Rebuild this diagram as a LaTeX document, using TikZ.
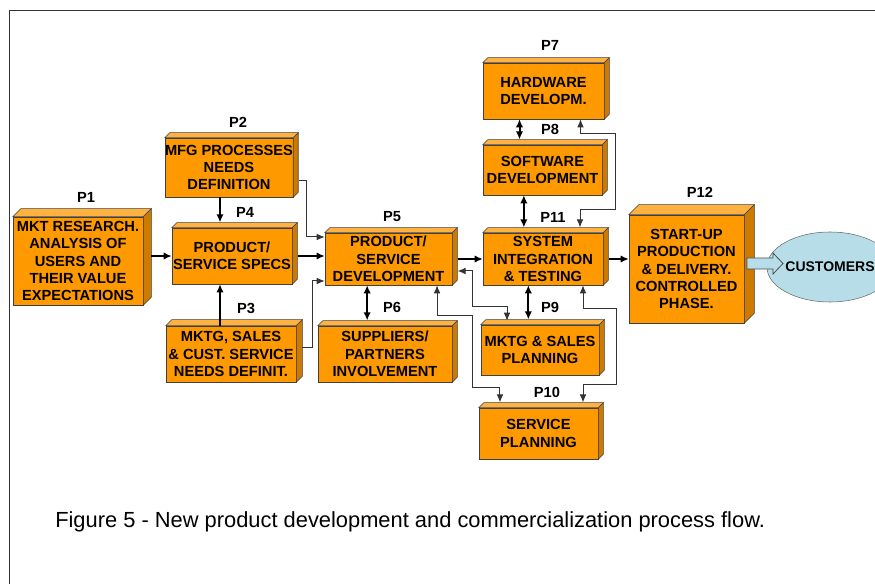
\documentclass[tikz,border=0pt]{standalone}
\usepackage{fontspec}
\setmainfont{Liberation Sans}
\usetikzlibrary{arrows.meta,shapes.geometric}
\definecolor{boxorange}{HTML}{FF9900}
\definecolor{boxtop}{HTML}{FFB23F}
\definecolor{boxside}{HTML}{CC7A00}
\definecolor{custblue}{HTML}{B7DEE8}

\begin{document}
\begin{tikzpicture}[
        x=0.75pt, y=-0.75pt,
        stage/.style={draw=black!75, fill=boxorange, inner sep=0pt, align=center, font=\bfseries\fontsize{11}{13}\selectfont},
        plabel/.style={font=\bfseries\fontsize{11}{13}\selectfont},
        mainarrow/.style={line width=1.5pt, >={Latex[length=6pt,width=5.5pt]}},
        thinarrow/.style={line width=0.75pt, draw=black!80, >={Latex[length=6pt,width=5pt]}},
        fatarrow/.style={draw=black!70, fill=custblue, line width=0.6pt}
    ]
        \useasboundingbox (0,0) rectangle (875,584);
        \draw[black!80, line width=0.75pt] (9,584) -- (9,11) -- (875,11);

        \node (p1) at (78,261) [stage, minimum width=97.5pt, minimum height=66pt] {MKT RESEARCH.\\ANALYSIS OF\\USERS AND\\THEIR VALUE\\EXPECTATIONS};
        \node (p2) at (229,167.5) [stage, minimum width=94.5pt, minimum height=44.25pt] {MFG PROCESSES\\NEEDS\\DEFINITION};
        \node (p4) at (232,256) [stage, minimum width=90pt, minimum height=42pt] {PRODUCT/\\SERVICE SPECS};
        \node (p3) at (231,354) [stage, minimum width=97.5pt, minimum height=42pt] {MKTG, SALES\\\& CUST. SERVICE\\NEEDS DEFINIT.};
        \node (p5) at (388.5,259) [stage, minimum width=95.25pt, minimum height=39pt] {PRODUCT/\\SERVICE\\DEVELOPMENT};
        \node (p6) at (385,354) [stage, minimum width=100.5pt, minimum height=42pt] {SUPPLIERS/\\PARTNERS\\INVOLVEMENT};
        \node (p7) at (543.5,91) [stage, minimum width=90.75pt, minimum height=42pt] {HARDWARE\\DEVELOPM.};
        \node (p8) at (542.5,170) [stage, minimum width=89.25pt, minimum height=37.5pt] {SOFTWARE\\DEVELOPMENT};
        \node (p11) at (543,259) [stage, minimum width=90pt, minimum height=39pt] {SYSTEM\\INTEGRATION\\\& TESTING};
        \node (p9) at (540,350) [stage, minimum width=88.5pt, minimum height=37.5pt] {MKTG \& SALES\\PLANNING};
        \node (p10) at (538.5,433.5) [stage, minimum width=89.25pt, minimum height=38.25pt] {SERVICE\\PLANNING};
        \node (p12) at (686.5,269) [stage, minimum width=86.25pt, minimum height=81pt] {START-UP\\PRODUCTION\\\& DELIVERY.\\CONTROLLED\\PHASE.};
        \node (cust) at (830,267) [ellipse, draw=black!60, fill=custblue, minimum width=78pt, minimum height=52.5pt, inner sep=0pt, font=\bfseries\fontsize{10.5}{13}\selectfont] {CUSTOMERS};

        % depth faces of the blocks
        \foreach \n/\d in {p1/8, p2/5, p3/6, p4/5, p5/5, p6/5, p7/5, p8/5, p9/5, p10/5, p11/5, p12/10} {
            \draw[draw=black!75, fill=boxtop] (\n.north west) -- ++(\d,-\d) -- ([shift={(\d,-\d)}]\n.north east) -- (\n.north east) -- cycle;
            \draw[draw=black!75, fill=boxside] (\n.north east) -- ++(\d,-\d) -- ([shift={(\d,-\d)}]\n.south east) -- (\n.south east) -- cycle;
        }

        \node (lp1) at (86,197) [plabel] {P1};
        \node (lp2) at (238,122) [plabel] {P2};
        \node (lp4) at (245,212) [plabel] {P4};
        \node (lp3) at (246,308) [plabel] {P3};
        \node (lp5) at (392,217) [plabel] {P5};
        \node (lp6) at (392,307) [plabel] {P6};
        \node (lp7) at (550,45) [plabel] {P7};
        \node (lp8) at (550,129) [plabel] {P8};
        \node (lp11) at (553,217) [plabel] {P11};
        \node (lp9) at (550,307) [plabel] {P9};
        \node (lp10) at (547,392) [plabel] {P10};
        \node (lp12) at (700,192) [plabel] {P12};

        \draw[mainarrow, ->] ([xshift=6pt]p1.east |- p4.west) -- (p4.west);
        \draw[mainarrow, ->] ([xshift=-9pt]p4.north |- p2.south) -- ([xshift=-9pt,yshift=4pt]p4.north);
        \draw[mainarrow, ->] ([xshift=-9pt]p4.south |- p3.north) -- ([xshift=-9pt]p4.south);
        \draw[mainarrow, ->] ([xshift=4pt]p4.east) -- (p5.west |- p4.east);
        \draw[mainarrow, ->] ([xshift=4pt]p5.east) -- (p11.west |- p5.east);
        \draw[mainarrow, ->] ([xshift=4pt]p11.east) -- (p12.west |- p11.east);

        \draw[mainarrow, <->] ([xshift=-16pt]p5.south) -- ([xshift=-16pt,yshift=4pt]p5.south |- p6.north);
        \draw[mainarrow, <->] ([xshift=-18pt]p7.south) -- ([xshift=-18pt,yshift=4pt]p7.south |- p8.north);
        \draw[mainarrow, <->] ([xshift=-14pt]p8.south) -- ([xshift=-14pt,yshift=4pt]p8.south |- p11.north);
        \draw[mainarrow, <->] ([xshift=-11pt]p11.south) -- ([xshift=-11pt,yshift=4pt]p11.south |- p9.north);

        \draw[thinarrow, ->] ([xshift=4pt,yshift=-10pt]p2.east) -- ++(8,0) |- ([yshift=16.5pt]p5.west);
        \draw[thinarrow, ->] ([xshift=4.5pt,yshift=4.5pt]p3.east) -- ++(10,0) |- ([yshift=-16.5pt]p5.west);
        \draw[thinarrow, <->] ([xshift=27.75pt,yshift=4pt]p11.north) |- ++(35,-18) |- ([xshift=27.75pt,yshift=-10.5pt]p7.south) -- ([xshift=27.75pt]p7.south);
        \draw[thinarrow, <->] ([xshift=4pt,yshift=-9pt]p5.east) -| ++(15,36) -| ([xshift=-24.75pt,yshift=3pt]p9.north);
        \draw[thinarrow, <->] ([xshift=36.4pt]p5.south) |- ++(35,30) |- ([xshift=-28.9pt,yshift=15pt]p10.north) -- ([xshift=-28.9pt,yshift=4pt]p10.north);
        \draw[thinarrow, <->] ([xshift=30pt]p11.south) |- ++(33,23) |- ([xshift=33.4pt,yshift=17.25pt]p10.north) -- ([xshift=33.4pt,yshift=4pt]p10.north);

        \draw[fatarrow] (747,258) -- ++(26,0) -- ++(0,-5) -- ++(10,10.5) -- ++(-10,10.5) -- ++(0,-5) -- ++(-26,0) -- cycle;

        \node (caption) at (55,522) [anchor=west, inner sep=0pt, font=\fontsize{16.4}{20}\selectfont] {Figure 5 - New product development and commercialization process flow.};
    \end{tikzpicture}
\end{document}
